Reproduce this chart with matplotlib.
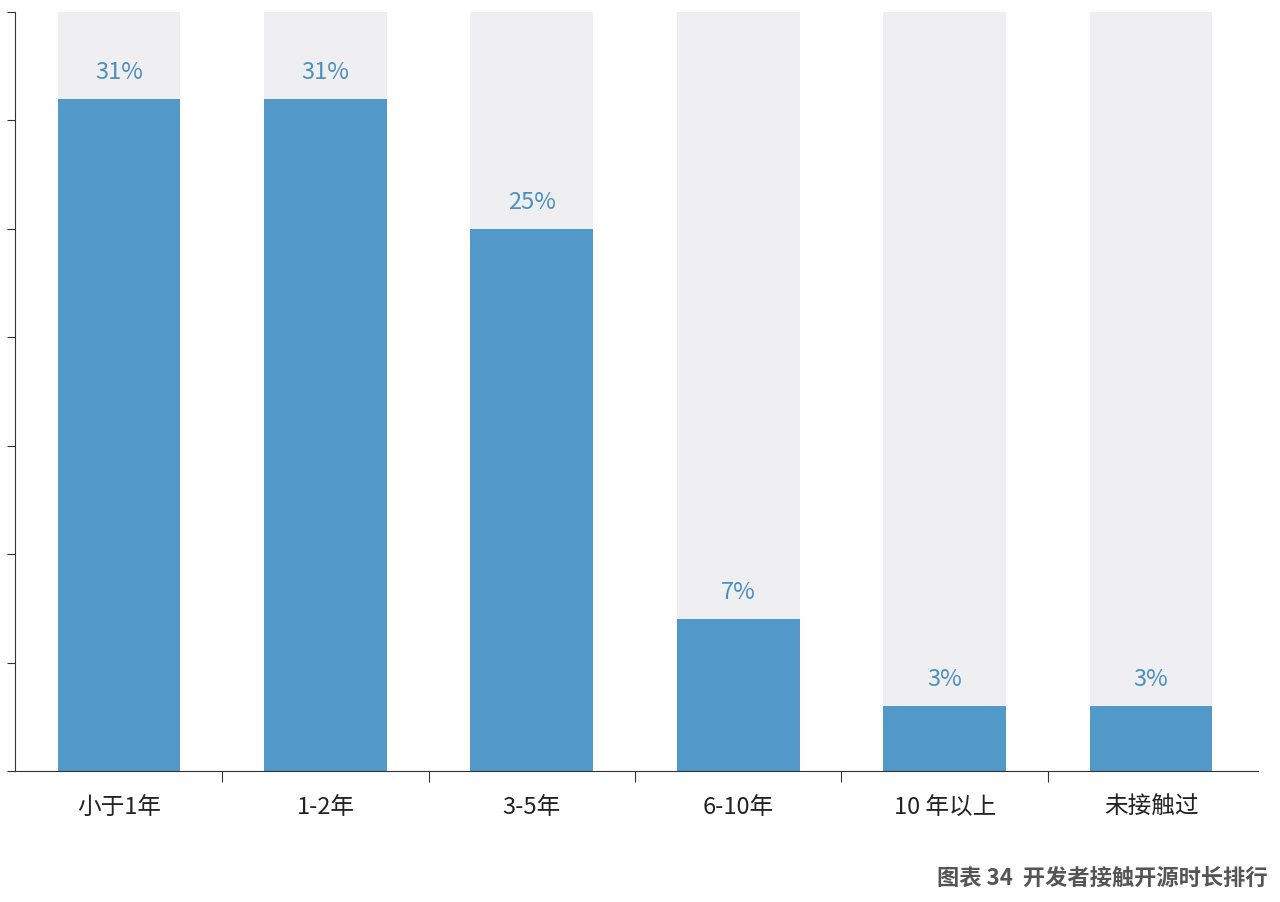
import matplotlib
matplotlib.use("Agg")
import matplotlib.pyplot as plt

plt.rcParams['font.family'] = ['Noto Sans CJK SC', 'DejaVu Sans']

categories = ["小于1年", "1-2年", "3-5年", "6-10年", "10 年以上", "未接触过"]
values = [31, 31, 25, 7, 3, 3]
labels = ["31%", "31%", "25%", "7%", "3%", "3%"]
ymax = 35

fig = plt.figure(figsize=(12.8, 9.02), dpi=100)
ax = fig.add_axes([15/1280, 1-771/902, 1243/1280, 759/902])
x = range(len(categories))
ax.bar(x, [ymax]*len(categories), width=0.595, color="#efeff1", zorder=1)
ax.bar(x, values, width=0.595, color="#5299c9", zorder=2)
for i, (v, l) in enumerate(zip(values, labels)):
    ax.text(i, v + 0.7, l, ha="center", va="bottom", fontsize=17, color="#4a90c2", zorder=3)
ax.set_xlim(-0.504, 5.518)
ax.set_ylim(0, ymax)
ax.set_yticks(range(0, 36, 5))
ax.set_yticklabels([])
ax.set_xticks([i + 0.5 for i in range(5)])
ax.set_xticklabels([])
ax.set_xticks(list(x), minor=True)
ax.set_xticklabels(categories, minor=True, fontsize=17, color="#222222")
ax.tick_params(axis="x", which="minor", length=0, pad=18)
ax.tick_params(axis="x", which="major", length=8, color="#333333", direction="out")
ax.tick_params(axis="y", length=6, color="#333333", direction="out")
for s in ["top", "right"]:
    ax.spines[s].set_visible(False)
ax.spines["left"].set_color("#333333")
ax.spines["bottom"].set_color("#333333")
fig.text(1268/1280, 1-878/902, "图表 34  开发者接触开源时长排行", ha="right", va="center",
         fontsize=16, color="#555555", fontweight="bold")
fig.savefig("out.png", dpi=100, facecolor="white")
